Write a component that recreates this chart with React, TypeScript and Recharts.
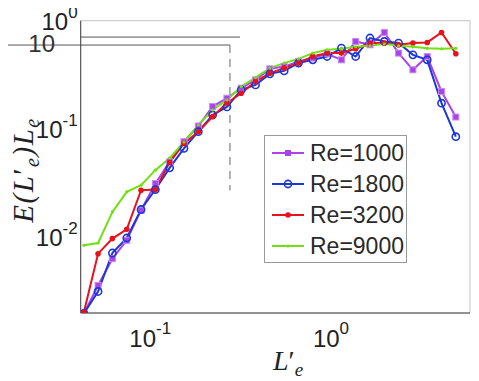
import { LineChart, Line, XAxis, YAxis, ReferenceLine, ReferenceArea } from 'recharts';

// bin centres L'_e (log spaced)
const xValues = [
  0.0429, 0.0514, 0.0617, 0.0741, 0.0889, 0.1067, 0.128, 0.1536, 0.1844, 0.2213,
  0.2655, 0.3186, 0.3823, 0.4588, 0.5505, 0.6607, 0.7928, 0.9513, 1.142, 1.37,
  1.644, 1.973, 2.367, 2.841, 3.409, 4.091, 4.909,
];

const re1000 = [
  0.00198, 0.00359, 0.00635, 0.00938, 0.0178, 0.0314, 0.0498, 0.0763, 0.1066, 0.161,
  0.1924, 0.238, 0.284, 0.359, 0.377, 0.42, 0.452, 0.495, 0.435, 0.643,
  0.599, 0.779, 0.502, 0.352, 0.467, 0.2215, 0.129,
];
const re1800 = [
  0.00198, 0.00316, 0.00716, 0.00985, 0.01805, 0.0276, 0.0438, 0.0663, 0.0944, 0.1348,
  0.16, 0.2297, 0.2555, 0.323, 0.344, 0.406, 0.435, 0.467, 0.559, 0.467,
  0.692, 0.643, 0.622, 0.484, 0.435, 0.173, 0.0849,
];
const re3200 = [
  0.00203, 0.00706, 0.00973, 0.01186, 0.0272, 0.0276, 0.0492, 0.0737, 0.0944, 0.13,
  0.174, 0.214, 0.274, 0.328, 0.365, 0.406, 0.467, 0.502, 0.502, 0.55,
  0.622, 0.622, 0.599, 0.622, 0.63, 0.779, 0.495,
];
const re9000 = [
  0.00843, 0.00886, 0.01715, 0.0263, 0.0303, 0.0417, 0.0539, 0.0758, 0.1089, 0.15,
  0.1856, 0.2464, 0.2985, 0.365, 0.406, 0.4446, 0.502, 0.539, 0.55, 0.574,
  0.587, 0.612, 0.587, 0.574, 0.556, 0.55, 0.556,
];

const xTicks = [0.1, 1];
const yTicks = [0.01, 0.1, 1];
const seriesNames = ['Re=1000', 'Re=1800', 'Re=3200', 'Re=9000'];

const data = xValues.map((x, i) => ({
  x,
  a: re1000[i],
  b: re1800[i],
  c: re3200[i],
  d: re9000[i],
}));

const PURPLE = '#a944e8';
const BLUE = '#1c36d8';
const RED = '#e6121c';
const GREEN = '#72e010';
const FONT = '"Liberation Sans", Arial, sans-serif';
const SERIF = '"Liberation Serif", "Times New Roman", serif';

const expOf = (v: number) => String(Math.round(Math.log10(v)));

const XTick = (props: any) => {
  const { x, y, payload } = props;
  return (
    <text x={x} y={y + 34} textAnchor="middle" fill="#222" fontFamily={FONT} fontSize={24}>
      <tspan>10</tspan>
      <tspan dy={-13} fontSize={17}>{expOf(payload.value)}</tspan>
    </text>
  );
};

const YTick = (props: any) => {
  const { x, y, payload } = props;
  return (
    <text x={x - 3} y={y + 9} textAnchor="end" fill="#222" fontFamily={FONT} fontSize={24}>
      <tspan>10</tspan>
      <tspan dy={-12} fontSize={17}>{expOf(payload.value)}</tspan>
    </text>
  );
};

const squareDot = (props: any) => {
  const { cx, cy, index } = props;
  if (cx == null || cy == null) return null;
  return <rect key={`sq-${index}`} x={cx - 3} y={cy - 3} width={6} height={6} fill={PURPLE} stroke="#c98af2" strokeWidth={1} />;
};
const circleDot = (props: any) => {
  const { cx, cy, index } = props;
  if (cx == null || cy == null) return null;
  return <circle key={`ci-${index}`} cx={cx} cy={cy} r={3.6} fill="none" stroke={BLUE} strokeWidth={1.6} />;
};
const redDot = (props: any) => {
  const { cx, cy, index } = props;
  if (cx == null || cy == null) return null;
  return <circle key={`rd-${index}`} cx={cx} cy={cy} r={2.8} fill={RED} />;
};
const greenDot = (props: any) => {
  const { cx, cy, index } = props;
  if (cx == null || cy == null) return null;
  return <circle key={`gd-${index}`} cx={cx} cy={cy} r={1.6} fill={GREEN} />;
};

const legendColors = [PURPLE, BLUE, RED, GREEN];

const LegendBox = () => (
  <div
    style={{
      position: 'absolute',
      left: 256,
      top: 127,
      width: 143,
      height: 128,
      border: '1px solid #9a9a9a',
      background: '#fff',
      boxSizing: 'border-box',
    }}
  >
    {seriesNames.map((name, i) => {
      const cy = 17 + i * 31;
      return (
        <div key={name} style={{ position: 'absolute', left: 0, top: cy - 14, height: 28, width: 141 }}>
          <svg width={40} height={28} style={{ position: 'absolute', left: 6, top: 0 }}>
            <line x1={1} y1={14} x2={33} y2={14} stroke={legendColors[i]} strokeWidth={2} />
            {i === 0 && <rect x={14} y={11} width={6} height={6} fill={PURPLE} />}
            {i === 1 && <circle cx={17} cy={14} r={3.6} fill="none" stroke={BLUE} strokeWidth={1.6} />}
            {i === 2 && <circle cx={17} cy={14} r={2.8} fill={RED} />}
            {i === 3 && <circle cx={17} cy={14} r={1.6} fill={GREEN} />}
          </svg>
          <span
            style={{
              position: 'absolute',
              left: 45,
              top: 0,
              lineHeight: '28px',
              fontFamily: FONT,
              fontSize: 23,
              color: '#2a2a2a',
              whiteSpace: 'nowrap',
            }}
          >
            {name}
          </span>
        </div>
      );
    })}
  </div>
);

const YLabel = () => {
  const cx = 25;
  const cy = 162;
  return (
    <g>
      <text
        x={cx}
        y={cy}
        transform={`rotate(-90, ${cx}, ${cy})`}
        textAnchor="middle"
        fontFamily={SERIF}
        fontStyle="italic"
        fontSize={29}
        letterSpacing={1.5}
        fill="#222"
      >
        <tspan>E(L</tspan>
        <tspan fontStyle="normal">′</tspan>
        <tspan dy={6} fontSize={20}>e</tspan>
        <tspan dy={-6}>)L</tspan>
        <tspan dy={6} fontSize={20}>e</tspan>
      </text>
      {/* ghost tick label left over in the original figure */}
      <text x={47} y={44} textAnchor="end" fill="#333" fontFamily={FONT} fontSize={24}>
        10
      </text>
    </g>
  );
};

const XLabel = () => (
  <text x={280} y={362} textAnchor="middle" fontFamily={SERIF} fontStyle="italic" fontSize={28} fill="#222">
    <tspan>L</tspan>
    <tspan fontStyle="normal">′</tspan>
    <tspan dy={6} fontSize={19}>e</tspan>
  </text>
);

export default function App() {
  return (
    <div style={{ position: 'relative', width: 471, height: 373 }}>
      <LineChart
        width={471}
        height={373}
        data={data}
        margin={{ top: 12.7, right: 9, left: 0, bottom: 0 }}
      >
        <XAxis
          dataKey="x"
          type="number"
          scale="log"
          domain={[0.0412, 5.88]}
          allowDataOverflow
          ticks={xTicks}
          tick={<XTick />}
          tickLine={false}
          tickSize={0}
          tickMargin={0}
          height={68}
          axisLine={{ stroke: '#444' }}
          label={<XLabel />}
        />
        <YAxis
          type="number"
          scale="log"
          domain={[0.002, 1]}
          allowDataOverflow
          ticks={yTicks}
          tick={<YTick />}
          tickLine={false}
          tickSize={0}
          tickMargin={0}
          width={72.7}
          axisLine={{ stroke: '#444' }}
          label={<YLabel />}
        />
        <ReferenceArea
          x1={0.0412}
          x2={5.88}
          y1={0.002}
          y2={1}
          fill="none"
          stroke="#c4c4c4"
          strokeWidth={1}
          ifOverflow="visible"
        />
        <ReferenceLine
          segment={[{ x: 0.0412, y: 0.706 }, { x: 0.3136, y: 0.706 }]}
          stroke="#555"
          strokeWidth={1}
          ifOverflow="visible"
        />
        <ReferenceLine
          segment={[{ x: 0.0145, y: 0.596 }, { x: 0.276, y: 0.596 }]}
          stroke="#555"
          strokeWidth={1}
          ifOverflow="visible"
        />
        <ReferenceLine
          segment={[{ x: 0.276, y: 0.596 }, { x: 0.276, y: 0.0271 }]}
          stroke="#666"
          strokeWidth={1}
          strokeDasharray="8 6"
          ifOverflow="visible"
        />
        <Line dataKey="a" name={seriesNames[0]} stroke={PURPLE} strokeWidth={2} dot={squareDot} isAnimationActive={false} />
        <Line dataKey="b" name={seriesNames[1]} stroke={BLUE} strokeWidth={2} dot={circleDot} isAnimationActive={false} />
        <Line dataKey="c" name={seriesNames[2]} stroke={RED} strokeWidth={2} dot={redDot} isAnimationActive={false} />
        <Line dataKey="d" name={seriesNames[3]} stroke={GREEN} strokeWidth={2} dot={greenDot} isAnimationActive={false} />
      </LineChart>
      <LegendBox />
    </div>
  );
}
